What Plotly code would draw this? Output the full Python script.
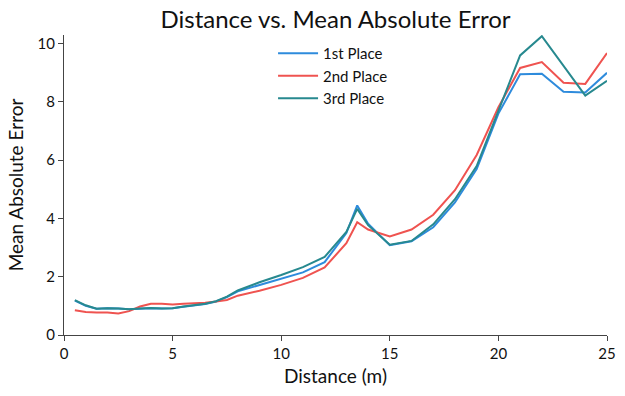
import plotly.graph_objects as go

distance = [0.5, 1, 1.5, 2, 2.5, 3, 3.5, 4, 4.5, 5, 5.5, 6, 6.5, 7, 7.5, 8, 9, 10, 11, 12,
            13, 13.5, 14, 15, 16, 17, 18, 19, 20, 21, 22, 23, 24, 25]
first_place = [1.18, 1.0, 0.9, 0.92, 0.91, 0.88, 0.9, 0.92, 0.91, 0.92, 0.97, 1.02, 1.06, 1.15, 1.3,
               1.5, 1.72, 1.93, 2.15, 2.5, 3.5, 4.45, 3.82, 3.08, 3.22, 3.7, 4.55, 5.7, 7.6,
               8.95, 8.97, 8.35, 8.33, 9.0]
second_place = [0.85, 0.79, 0.77, 0.77, 0.74, 0.82, 0.98, 1.07, 1.07, 1.05, 1.07, 1.08, 1.11, 1.15, 1.2,
                1.35, 1.52, 1.72, 1.96, 2.32, 3.15, 3.87, 3.62, 3.38, 3.62, 4.13, 4.97, 6.18, 7.82,
                9.17, 9.37, 8.66, 8.62, 9.68]
third_place = [1.2, 1.02, 0.9, 0.92, 0.91, 0.88, 0.91, 0.93, 0.91, 0.92, 0.98, 1.03, 1.07, 1.16, 1.32,
               1.53, 1.81, 2.06, 2.33, 2.68, 3.54, 4.33, 3.77, 3.1, 3.23, 3.8, 4.66, 5.8, 7.7,
               9.6, 10.26, 9.25, 8.22, 8.73]
series_names = ["1st Place", "2nd Place", "3rd Place"]
colors = ["#2e8bdc", "#ef5350", "#27898f"]

FONT = "Lato, Noto Sans, sans-serif"

fig = go.Figure()
for name, ys, c in zip(series_names, [first_place, second_place, third_place], colors):
    fig.add_trace(go.Scatter(x=distance, y=ys, mode="lines", name=name,
                             line=dict(color=c, width=2)))

fig.update_layout(
    width=625, height=396,
    margin=dict(l=64, r=18, t=35, b=61),
    paper_bgcolor="white", plot_bgcolor="white",
    font=dict(family=FONT, color="#111111", size=15),
    title=dict(text="Distance vs. Mean Absolute Error", x=0.5, xref="paper",
               y=0.95, yanchor="middle", font=dict(size=24, family=FONT)),
    legend=dict(x=0.385, y=0.993, xanchor="left", yanchor="top",
                bgcolor="rgba(0,0,0,0)", font=dict(size=15, family=FONT),
                tracegroupgap=0, itemwidth=40),
    showlegend=True,
)
fig.update_xaxes(range=[0, 25], tickvals=[0, 5, 10, 15, 20, 25], automargin=False,
                 showgrid=False, zeroline=False, showline=True, linecolor="#444",
                 linewidth=1, ticks="outside", ticklen=5, tickcolor="#444",
                 title=dict(text="Distance (m)", font=dict(size=19), standoff=8),
                 tickfont=dict(size=15))
fig.update_yaxes(range=[0, 10.3], tickvals=[0, 2, 4, 6, 8, 10], automargin=False,
                 showgrid=False, zeroline=False, showline=True, linecolor="#444",
                 linewidth=1, ticks="outside", ticklen=5, tickcolor="#444",
                 title=dict(text="Mean Absolute Error", font=dict(size=19), standoff=8),
                 tickfont=dict(size=15))

fig.write_html("out.html", config={"displayModeBar": False},
               post_script="document.body.style.margin='0';")
